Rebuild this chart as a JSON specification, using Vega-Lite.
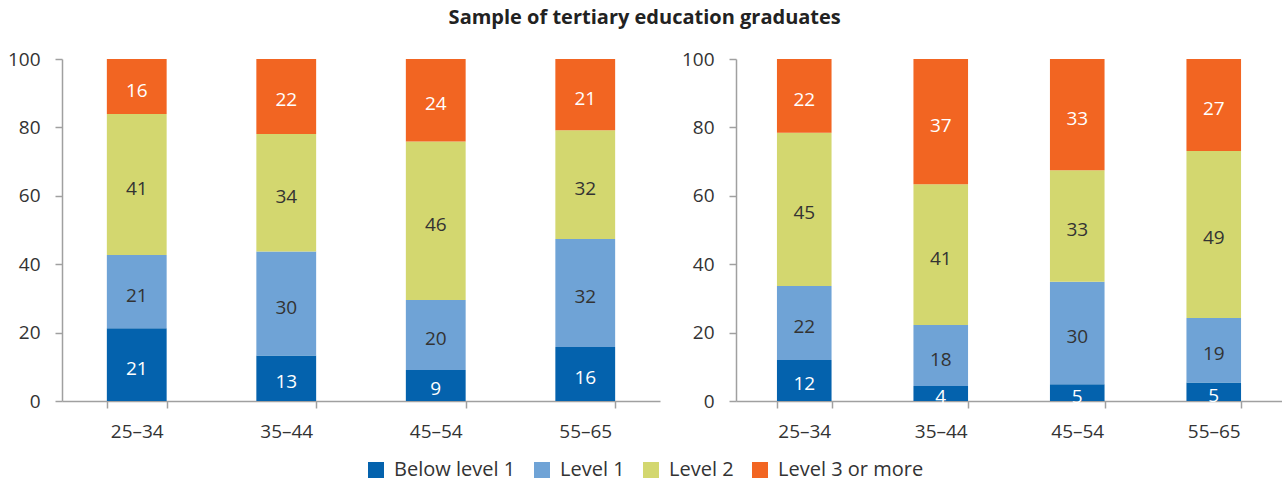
{
  "$schema": "https://vega.github.io/schema/vega-lite/v6.json",
  "padding": {"left": 7, "top": 8, "right": 0, "bottom": 2},
  "background": "white",
  "config": {
    "font": "Open Sans",
    "view": {"stroke": null},
    "axis": {"labelFont": "Open Sans", "labelFontSize": 19, "labelColor": "#333", "domainColor": "#a0a0a0", "tickColor": "#a0a0a0", "domainWidth": 1.5, "tickWidth": 1.5, "tickSize": 7, "grid": false, "title": null},
    "legend": {"layout": {"bottom": {"anchor": "middle"}}}
  },
  "title": {"text": "Sample of tertiary education graduates", "fontSize": 20, "fontWeight": "bold", "font": "Open Sans", "color": "#222", "anchor": "middle", "offset": 22},
  "datasets": {
    "left": [
      {"age": "25–34", "level": "Below level 1", "value": 21.3, "label": "21"},
      {"age": "25–34", "level": "Level 1", "value": 21.4, "label": "21"},
      {"age": "25–34", "level": "Level 2", "value": 41.2, "label": "41"},
      {"age": "25–34", "level": "Level 3 or more", "value": 16.1, "label": "16"},
      {"age": "35–44", "level": "Below level 1", "value": 13.3, "label": "13"},
      {"age": "35–44", "level": "Level 1", "value": 30.4, "label": "30"},
      {"age": "35–44", "level": "Level 2", "value": 34.4, "label": "34"},
      {"age": "35–44", "level": "Level 3 or more", "value": 21.9, "label": "22"},
      {"age": "45–54", "level": "Below level 1", "value": 9.1, "label": "9"},
      {"age": "45–54", "level": "Level 1", "value": 20.4, "label": "20"},
      {"age": "45–54", "level": "Level 2", "value": 46.4, "label": "46"},
      {"age": "45–54", "level": "Level 3 or more", "value": 24.1, "label": "24"},
      {"age": "55–65", "level": "Below level 1", "value": 15.8, "label": "16"},
      {"age": "55–65", "level": "Level 1", "value": 31.6, "label": "32"},
      {"age": "55–65", "level": "Level 2", "value": 31.8, "label": "32"},
      {"age": "55–65", "level": "Level 3 or more", "value": 20.8, "label": "21"}
    ],
    "right": [
      {"age": "25–34", "level": "Below level 1", "value": 12.0, "label": "12"},
      {"age": "25–34", "level": "Level 1", "value": 21.6, "label": "22"},
      {"age": "25–34", "level": "Level 2", "value": 44.8, "label": "45"},
      {"age": "25–34", "level": "Level 3 or more", "value": 21.6, "label": "22"},
      {"age": "35–44", "level": "Below level 1", "value": 4.4, "label": "4"},
      {"age": "35–44", "level": "Level 1", "value": 17.8, "label": "18"},
      {"age": "35–44", "level": "Level 2", "value": 41.2, "label": "41"},
      {"age": "35–44", "level": "Level 3 or more", "value": 36.6, "label": "37"},
      {"age": "45–54", "level": "Below level 1", "value": 4.9, "label": "5"},
      {"age": "45–54", "level": "Level 1", "value": 30.0, "label": "30"},
      {"age": "45–54", "level": "Level 2", "value": 32.6, "label": "33"},
      {"age": "45–54", "level": "Level 3 or more", "value": 32.5, "label": "33"},
      {"age": "55–65", "level": "Below level 1", "value": 5.4, "label": "5"},
      {"age": "55–65", "level": "Level 1", "value": 18.9, "label": "19"},
      {"age": "55–65", "level": "Level 2", "value": 48.8, "label": "49"},
      {"age": "55–65", "level": "Level 3 or more", "value": 26.9, "label": "27"}
    ]
  },
  "spacing": 21,
  "hconcat": [
    {
      "width": 598,
      "height": 342,
      "data": {"name": "left"},
      "encoding": {
        "x": {"field": "age", "type": "nominal", "sort": ["25–34", "35–44", "45–54", "55–65"], "scale": {"paddingInner": 0.6, "paddingOuter": 0.3}, "axis": {"labelAngle": 0, "tickBand": "extent", "labelPadding": 14}}
      },
      "layer": [
        {
          "mark": {"type": "bar"},
          "encoding": {
            "y": {"field": "value", "type": "quantitative", "stack": "zero", "scale": {"domain": [0, 100], "nice": false}, "axis": {"values": [0, 20, 40, 60, 80, 100], "labelPadding": 15}},
            "color": {"field": "level", "type": "nominal", "scale": {"domain": ["Below level 1", "Level 1", "Level 2", "Level 3 or more"], "range": ["#0462ad", "#6fa3d6", "#d3d76f", "#f26522"]}, "legend": {"orient": "bottom", "direction": "horizontal", "title": null, "symbolType": "square", "symbolSize": 256, "symbolStrokeWidth": 0, "labelFontSize": 20, "labelColor": "#333", "labelOffset": 8, "columnPadding": 16, "offset": 19}},
            "order": {"field": "level", "sort": "ascending"}
          }
        },
        {
          "mark": {"type": "text", "fontSize": 19, "baseline": "middle", "dy": 4},
          "encoding": {
            "y": {"field": "value", "type": "quantitative", "stack": "zero", "bandPosition": 0.5},
            "detail": {"field": "level"},
            "order": {"field": "level", "sort": "ascending"},
            "text": {"field": "label"},
            "color": {"condition": {"test": "datum.level === 'Below level 1' || datum.level === 'Level 3 or more'", "value": "white"}, "value": "#333"}
          }
        }
      ]
    },
    {
      "width": 546,
      "height": 342,
      "data": {"name": "right"},
      "encoding": {
        "x": {"field": "age", "type": "nominal", "sort": ["25–34", "35–44", "45–54", "55–65"], "scale": {"paddingInner": 0.6, "paddingOuter": 0.3}, "axis": {"labelAngle": 0, "tickBand": "extent", "labelPadding": 14}}
      },
      "layer": [
        {
          "mark": {"type": "bar"},
          "encoding": {
            "y": {"field": "value", "type": "quantitative", "stack": "zero", "scale": {"domain": [0, 100], "nice": false}, "axis": {"values": [0, 20, 40, 60, 80, 100], "labelPadding": 15}},
            "color": {"field": "level", "type": "nominal"},
            "order": {"field": "level", "sort": "ascending"}
          }
        },
        {
          "mark": {"type": "text", "fontSize": 19, "baseline": "middle", "dy": 4},
          "encoding": {
            "y": {"field": "value", "type": "quantitative", "stack": "zero", "bandPosition": 0.5},
            "detail": {"field": "level"},
            "order": {"field": "level", "sort": "ascending"},
            "text": {"field": "label"},
            "color": {"condition": {"test": "datum.level === 'Below level 1' || datum.level === 'Level 3 or more'", "value": "white"}, "value": "#333"}
          }
        }
      ]
    }
  ]
}
